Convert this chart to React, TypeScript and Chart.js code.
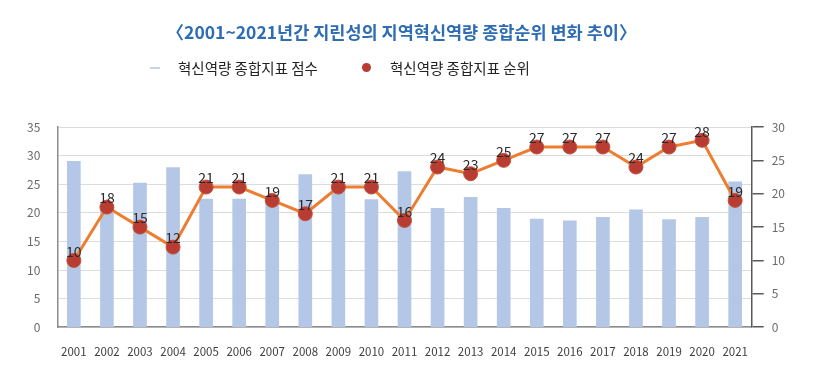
import React, { useEffect, useRef } from "react";
import { Chart, registerables } from "chart.js";

Chart.register(...registerables);

const years = ["2001","2002","2003","2004","2005","2006","2007","2008","2009","2010","2011","2012","2013","2014","2015","2016","2017","2018","2019","2020","2021"];
const scoreValues = [29.0, 20.8, 25.2, 27.9, 22.4, 22.4, 22.0, 26.7, 24.3, 22.3, 27.2, 20.8, 22.7, 20.8, 18.9, 18.6, 19.2, 20.5, 18.8, 19.2, 25.4];
const rankValues = [10, 18, 15, 12, 21, 21, 19, 17, 21, 21, 16, 24, 23, 25, 27, 27, 27, 24, 27, 28, 19];
const leftTicks = { min: 0, max: 35, step: 5 };
const rightTicks = { min: 0, max: 30, step: 5 };
const titleText = "〈2001~2021년간 지린성의 지역혁신역량 종합순위 변화 추이〉";
const scoreLabel = "혁신역량 종합지표 점수";
const rankLabel = "혁신역량 종합지표 순위";

const FONT = "'Noto Sans CJK KR', 'Noto Sans', sans-serif";

const pointLabelPlugin = {
  id: "pointLabels",
  afterDatasetsDraw(chart: any) {
    const ctx = chart.ctx;
    const meta = chart.getDatasetMeta(1);
    ctx.save();
    ctx.font = `14px ${FONT}`;
    ctx.fillStyle = "#2a2a2a";
    ctx.textAlign = "center";
    ctx.textBaseline = "middle";
    meta.data.forEach((pt: any, i: number) => {
      ctx.fillText(String(rankValues[i]), pt.x, pt.y - 9);
    });
    ctx.restore();
  },
};

export default function App() {
  const ref = useRef<HTMLCanvasElement | null>(null);
  useEffect(() => {
    if (!ref.current) return;
    const chart = new Chart(ref.current, {
      type: "bar",
      data: {
        labels: years,
        datasets: [
          {
            type: "bar",
            label: scoreLabel,
            data: scoreValues,
            backgroundColor: "#B4C7E7",
            barThickness: 13,
            yAxisID: "y",
            order: 2,
          },
          {
            type: "line",
            label: rankLabel,
            data: rankValues,
            borderColor: "#ED7D31",
            borderWidth: 3,
            pointRadius: 7,
            pointBackgroundColor: "#B83C32",
            pointBorderColor: "#C4513A",
            pointBorderWidth: 1,
            tension: 0,
            yAxisID: "y1",
            order: 1,
          } as any,
        ],
      },
      options: {
        responsive: false,
        animation: false,
        layout: { padding: { top: 14, left: 2, right: 15, bottom: 3 } },
        plugins: {
          legend: { display: false },
          tooltip: { enabled: false },
          title: {
            display: true,
            text: titleText,
            color: "#2E6DB4",
            font: { family: FONT, size: 17.5, weight: "bold" },
            padding: { top: 0, bottom: 84 },
          },
        },
        scales: {
          x: {
            grid: { display: false, drawTicks: false },
            border: { display: true, color: "#8c8c8c", width: 1.5 },
            ticks: {
              color: "#404040",
              font: { family: FONT, size: 11.5 },
              padding: 18,
              autoSkip: false,
              maxRotation: 0,
            },
          },
          y: {
            position: "left",
            min: leftTicks.min,
            max: leftTicks.max,
            ticks: {
              stepSize: leftTicks.step,
              color: "#6a6a6a",
              font: { family: FONT, size: 12 },
              padding: 17,
            },
            grid: { color: "#dcdcdc", drawTicks: false },
            border: { display: true, color: "#8c8c8c", width: 1.5 },
          },
          y1: {
            position: "right",
            min: rightTicks.min,
            max: rightTicks.max,
            ticks: {
              stepSize: rightTicks.step,
              color: "#6a6a6a",
              font: { family: FONT, size: 12 },
              padding: 8,
            },
            grid: { drawOnChartArea: false, color: "#595959", tickLength: 12, lineWidth: 1.5 },
            border: { display: true, color: "#595959", width: 1.5 },
          },
        },
      },
      plugins: [pointLabelPlugin],
    });
    return () => chart.destroy();
  }, []);

  return (
    <div style={{ position: "relative", width: 800, height: 372 }}>
      <canvas ref={ref} width={800} height={372} style={{ display: "block" }} />
      <div style={{ position: "absolute", left: 142, top: 59, width: 10, height: 2, background: "#C8D3E8" }} />
      <div style={{ position: "absolute", left: 170, top: 50, fontFamily: FONT, fontSize: 14.5, lineHeight: "20px", color: "#222", whiteSpace: "nowrap" }}>{scoreLabel}</div>
      <div style={{ position: "absolute", left: 354, top: 55, width: 9, height: 9, borderRadius: "50%", background: "#B83C32" }} />
      <div style={{ position: "absolute", left: 382, top: 50, fontFamily: FONT, fontSize: 14.5, lineHeight: "20px", color: "#222", whiteSpace: "nowrap" }}>{rankLabel}</div>
    </div>
  );
}
